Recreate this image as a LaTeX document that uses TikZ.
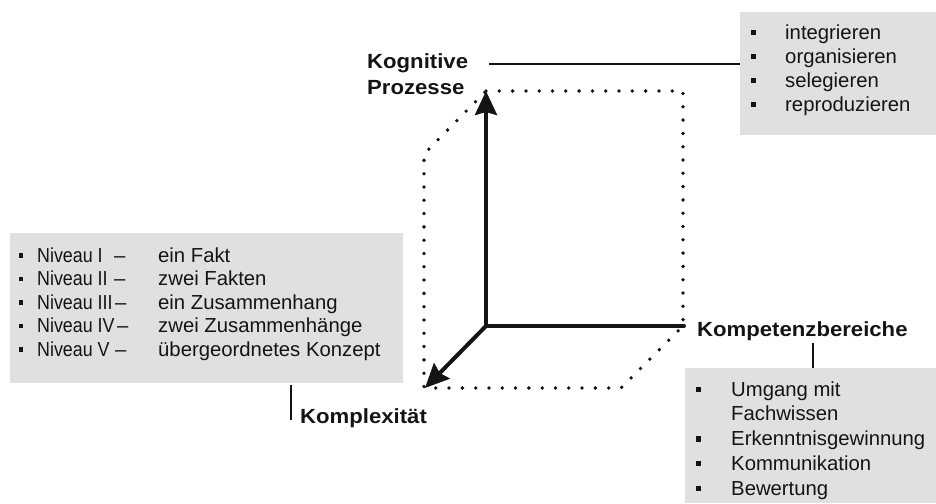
\documentclass[tikz,border=0pt]{standalone}
\usepackage{fontspec}
\setmainfont{Liberation Sans}
\newfontfamily\widesf{Liberation Sans}[FakeStretch=1.08]
\newfontfamily\narrowsf{Liberation Sans}[FakeStretch=0.88]
\usetikzlibrary{arrows.meta}
\definecolor{boxgray}{RGB}{224,224,224}
\definecolor{ink}{RGB}{20,20,20}
\tikzset{
  graybox/.style={fill=boxgray, draw=none, inner sep=0pt, anchor=north west},
  item/.style={anchor=base west, inner sep=0pt, text=ink, font=\fontsize{20.3}{24}\selectfont},
  axislabel/.style={anchor=base west, inner sep=0pt, text=ink, font=\widesf\bfseries\fontsize{20.5}{24}\selectfont},
  sq/.style={fill=ink, draw=none, inner sep=0pt, minimum size=#1},
  sq/.default=5.5pt,
  axis/.style={line width=4pt, draw=ink},
  dotline/.style={draw=ink, line width=3.8pt, line cap=round, dash pattern=on 0pt off 13.3pt},
  leader/.style={draw=ink, line width=1.1pt}
}
\begin{document}
\begin{tikzpicture}[x=1pt,y=-1pt]
\useasboundingbox (0,0) rectangle (936,503);

% boxes
\node[graybox, minimum width=196pt, minimum height=123pt] (kbox) at (740,12) {};
\node[graybox, minimum width=393pt, minimum height=150pt] (nbox) at (10,233) {};
\node[graybox, minimum width=251pt, minimum height=135pt] (bbox) at (685,368) {};

% dotted frame
\draw[dotline] (486,91) -- (683,91) -- (683,326) -- (621,388) -- (424,388) -- (424,154) -- cycle;

% axes
\coordinate (O) at (486,326);
\coordinate (up) at (486,91);
\coordinate (rt) at (684,326);
\coordinate (dl) at (425,388);
\draw[axis, line cap=round] (O) -- (rt);
\draw[axis, -{Stealth[length=24pt,width=22pt,inset=3pt]}] (O) -- (up);
\draw[axis, -{Stealth[length=24pt,width=22pt,inset=3pt]}] (O) -- (dl);

% axis labels
\node[axislabel] (kog1) at (367,68.3) {Kognitive};
\node[axislabel] (kog2) at (367,94.3) {Prozesse};
\node[axislabel] (kompl) at (300,423.5) {Komplexität};
\node[axislabel] (kompb) at (697,336.5) {Kompetenzbereiche};

% leaders
\coordinate (kl) at (489,64);
\draw[leader] (kl) -- (kl -| kbox.west);
\coordinate (bl) at (813,343);
\draw[leader] (bl) -- (bl |- bbox.north);
\coordinate (cl1) at (291,385);
\coordinate (cl2) at (291,420);
\draw[leader] (cl1) -- (cl2);

% top right list
\foreach \t [count=\i] in {integrieren,organisieren,selegieren,reproduzieren}{
  \node[item] (k\i) at (785,{39.5+24*(\i-1)}) {\t};
  \node[sq] (kb\i) at (753.7,{32.7+24*(\i-1)}) {};
}

% left list
\foreach \a/\d/\b [count=\i] in {I/114/ein Fakt, II/114/zwei Fakten, III/115/ein Zusammenhang, IV/117/zwei Zusammenhänge, V/115/übergeordnetes Konzept}{
  \node[sq=4.6pt] (nb\i) at (21,{255.5+23.5*(\i-1)}) {};
  \node[item, font=\narrowsf\fontsize{20.3}{24}\selectfont] (na\i) at (37,{262+23.5*(\i-1)}) {Niveau \a};
  \node[item] (nd\i) at (\d,{262+23.5*(\i-1)}) {–};
  \node[item] (nt\i) at (158,{262+23.5*(\i-1)}) {\b};
}

% bottom right list
\node[sq] (bb1) at (698.7,389.3) {};
\node[item] (b1) at (731,396) {Umgang mit};
\node[item] (b2) at (731,420.7) {Fachwissen};
\node[sq] (bb3) at (698.7,439) {};
\node[item] (b3) at (731,445.7) {Erkenntnisgewinnung};
\node[sq] (bb4) at (698.7,463.3) {};
\node[item] (b4) at (731,470) {Kommunikation};
\node[sq] (bb5) at (698.7,488.3) {};
\node[item] (b5) at (731,495) {Bewertung};
\end{tikzpicture}
\end{document}
